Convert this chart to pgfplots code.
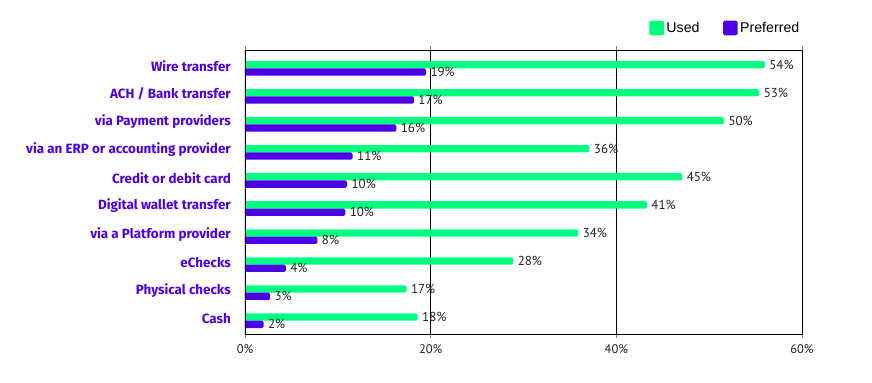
\documentclass[border=0pt]{standalone}
\usepackage{fontspec}
\setmainfont{PT Sans}
\newfontfamily\catfont{Fira Sans}
\newfontfamily\legfont{Liberation Sans}
\usepackage{pgfplots}
\pgfplotsset{compat=1.18}
\usepackage{pgfplotstable}
\definecolor{usedc}{HTML}{00FF80}
\definecolor{prefc}{HTML}{4B00E6}
\definecolor{numc}{HTML}{222222}

% pos: category position (0 = top); used/pref: bar length; ul/pl: printed label
\pgfplotstableread{
pos used pref ul pl
0 56.0 19.5 54 19
1 55.4 18.2 53 17
2 51.6 16.3 50 16
3 37.1 11.6 36 11
4 47.1 11.0 45 10
5 43.3 10.8 41 10
6 35.9 7.8 34 8
7 28.9 4.4 28 4
8 17.4 2.7 17 3
9 18.6 2.0 18 2
}\datatable

\begin{document}
\begin{tikzpicture}
\useasboundingbox (-245bp,-49bp) rectangle (627bp,334bp);
\begin{axis}[
  at={(0,0)}, anchor=south west,
  scale only axis, width=557bp, height=284bp,
  xmin=0, xmax=60, ymin=-0.653, ymax=9.474,
  y dir=reverse,
  /pgf/number format/assume math mode=true,
  xtick={0,20,40,60},
  xticklabels={0\%,20\%,40\%,60\%},
  xticklabel style={font=\fontsize{12.5bp}{13bp}\selectfont, text=numc, yshift=-3bp},
  xtick style={draw=gray, line width=0.6pt},
  tick align=outside, major tick length=4bp,
  ytick={0,...,9},
  yticklabels={Wire transfer, ACH / Bank transfer, via Payment providers, via an ERP or accounting provider, Credit or debit card, Digital wallet transfer, via a Platform provider, eChecks, Physical checks, Cash},
  yticklabel style={font=\catfont\bfseries\fontsize{13.4bp}{14bp}\selectfont, text=prefc, anchor=east, inner sep=0pt, xshift=-10bp, yshift=2.5bp},
  ytick style={draw=none},
  xmajorgrids, grid style={black, line width=0.6pt},
  axis line style={black, line width=0.7pt},
  xbar, bar width=0.26, bar shift=0pt,
  nodes near coords={\pgfmathprintnumber{\pgfplotspointmeta}\%},
  nodes near coords style={anchor=west, xshift=1bp, font=\fontsize{13bp}{13bp}\selectfont, text=numc},
  point meta=explicit,
  legend columns=2,
  legend style={at={(rel axis cs:1,1)}, anchor=east, yshift=22bp, draw=none, inner sep=0pt,
    font=\legfont\fontsize{14.2bp}{15bp}\selectfont, text=black,
    nodes={inner sep=2.5bp},
    /tikz/column 2/.style={column sep=21bp}},
  legend image code/.code={\fill[#1, draw=none, rounded corners=1.5bp] (0bp,-7.3bp) rectangle (14.5bp,7.3bp);},
]
\addplot[fill=usedc, draw=none, rounded corners=1.5bp] table[x=used, y expr=\thisrow{pos}-0.13, meta=ul] {\datatable};
\addlegendentry{Used}
\addplot[fill=prefc, draw=none, rounded corners=1.5bp] table[x=pref, y expr=\thisrow{pos}+0.13, meta=pl] {\datatable};
\addlegendentry{Preferred}
\draw[black, line width=1.5pt] (rel axis cs:0,0) -- (rel axis cs:0,1);
\end{axis}
\end{tikzpicture}
\end{document}
